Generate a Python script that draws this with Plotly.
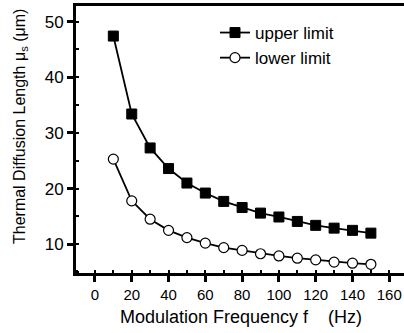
import plotly.graph_objects as go

freq = [10, 20, 30, 40, 50, 60, 70, 80, 90, 100, 110, 120, 130, 140, 150]
upper = [47.4, 33.4, 27.3, 23.6, 21.0, 19.2, 17.7, 16.6, 15.6, 14.9, 14.1, 13.4, 12.9, 12.5, 12.0]
lower = [25.3, 17.8, 14.5, 12.5, 11.2, 10.2, 9.4, 8.9, 8.3, 7.9, 7.5, 7.2, 6.8, 6.6, 6.4]
x_ticks = [0, 20, 40, 60, 80, 100, 120, 140, 160]
y_ticks = [10, 20, 30, 40, 50]

FONT = "Liberation Sans, Arial, sans-serif"

fig = go.Figure()
fig.add_trace(go.Scatter(
    x=freq, y=upper, mode="lines+markers", name="upper limit",
    line=dict(color="black", width=1.8),
    marker=dict(symbol="square", size=10, color="black", line=dict(color="black", width=1)),
))
fig.add_trace(go.Scatter(
    x=freq, y=lower, mode="lines+markers", name="lower limit",
    line=dict(color="black", width=1.8),
    marker=dict(symbol="circle", size=10, color="white", line=dict(color="black", width=1.2)),
))

L, T, B, R = 76, 6, 60, 0
W, H = 404, 333
pw, ph = W - L - R, H - T - B

fig.update_layout(
    width=W, height=H,
    margin=dict(l=L, r=R, t=T, b=B, pad=0, autoexpand=False),
    paper_bgcolor="white", plot_bgcolor="white",
    font=dict(family=FONT, size=16, color="black"),
    showlegend=True,
    legend=dict(
        x=(215 - L) / pw, y=(H - B - 15) / ph, xanchor="left", yanchor="top",
        bgcolor="rgba(0,0,0,0)", font=dict(size=17, family=FONT, color="black"),
        tracegroupgap=0, itemwidth=30,
    ),
    xaxis=dict(
        range=[-10.3, 168], tickvals=x_ticks, ticktext=[str(v) for v in x_ticks],
        showgrid=False, zeroline=False, automargin=False,
        showline=True, linecolor="black", linewidth=3, mirror=True,
        ticks="outside", ticklen=6, tickwidth=2.5, tickcolor="black",
        tickfont=dict(size=15, family=FONT, color="black"),
        minor=dict(dtick=10, tick0=0, ticks="inside", ticklen=3, tickwidth=2, tickcolor="black"),
    ),
    yaxis=dict(
        range=[4.84, 52.8], tickvals=y_ticks, ticktext=[str(v) for v in y_ticks],
        showgrid=False, zeroline=False, automargin=False,
        showline=True, linecolor="black", linewidth=3, mirror=False,
        ticks="outside", ticklen=6, tickwidth=2.5, tickcolor="black",
        tickfont=dict(size=17, family=FONT, color="black"),
        minor=dict(dtick=5, tick0=0, ticks="inside", ticklen=3, tickwidth=2, tickcolor="black"),
    ),
)

fig.add_annotation(
    text="Thermal Diffusion Length μ<sub>s</sub> (μm)",
    xref="paper", yref="paper",
    x=(20 - L) / pw, y=(H - B - 127) / ph,
    xanchor="center", yanchor="middle", textangle=-90, showarrow=False,
    font=dict(size=16, family=FONT, color="black"),
)
fig.add_annotation(
    text="Modulation Frequency f    (Hz)",
    xref="paper", yref="paper",
    x=(241 - L) / pw, y=(H - B - 317) / ph,
    xanchor="center", yanchor="middle", showarrow=False,
    font=dict(size=18, family=FONT, color="black"),
)

fig.write_html(
    "out.html",
    config={"displayModeBar": False},
    post_script="document.body.style.margin='0';document.body.style.padding='0';document.body.style.overflow='hidden';",
)
